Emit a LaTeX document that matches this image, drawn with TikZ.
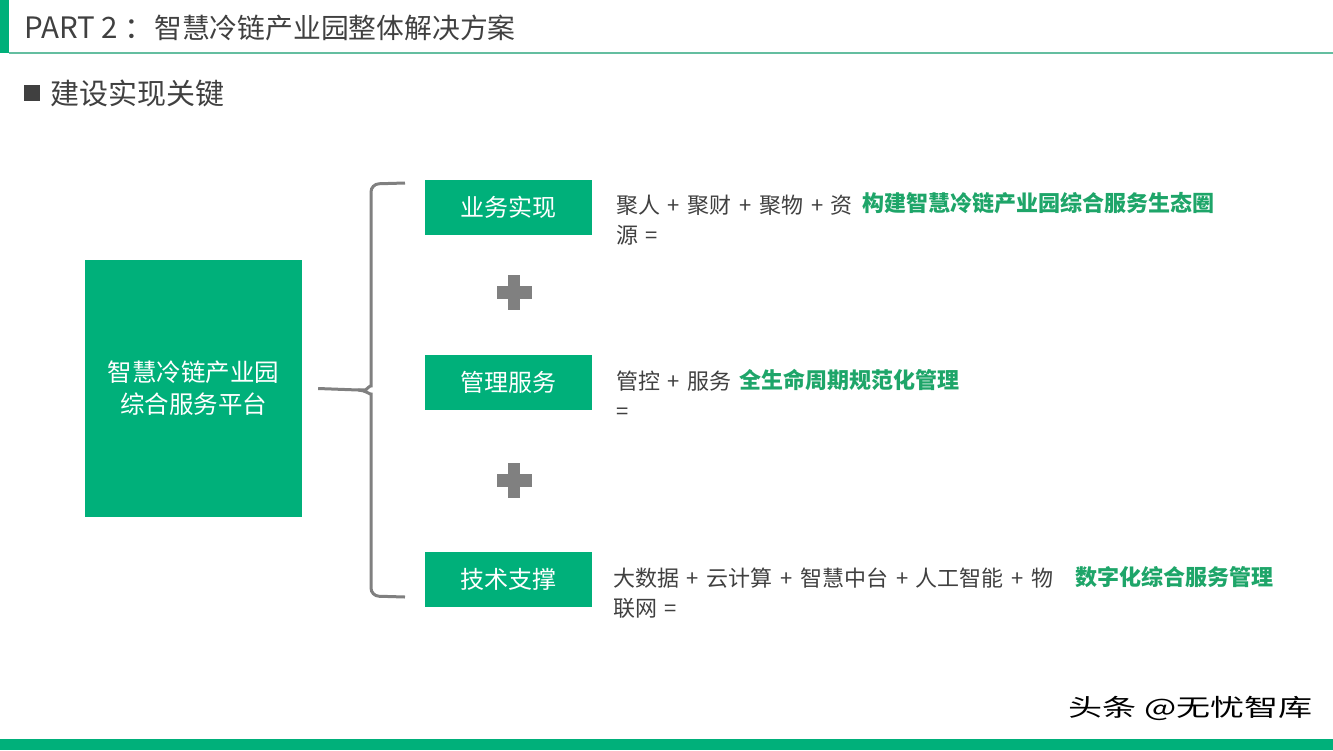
\documentclass[tikz,border=0pt]{standalone}
\usepackage{fontspec}
\setmainfont{Noto Sans CJK SC}
\newfontfamily\formulafont[WordSpace=1.56]{Noto Sans CJK SC}
\usepackage{graphicx}
\usepackage{tikz}
\usetikzlibrary{positioning}
\definecolor{brand}{RGB}{0,176,122}
\definecolor{rulegreen}{RGB}{100,190,160}
\definecolor{inkgray}{RGB}{64,64,64}
\definecolor{goalgreen}{RGB}{30,165,105}
\definecolor{linegray}{RGB}{128,128,128}
\tikzset{
  platform/.style={
    rectangle, fill=brand, text=white, minimum width=217pt,
    minimum height=257pt, align=center, font=\fontsize{24.5pt}{32pt}\selectfont
  },
  pillar/.style={
    rectangle, fill=brand, text=white, minimum width=167pt,
    minimum height=55pt, inner sep=0pt, font=\fontsize{24pt}{28pt}\selectfont
  },
  heading/.style={anchor=base west, inner sep=0pt, text=inkgray},
  formula/.style={
    anchor=base west, inner sep=0pt, align=left, text=inkgray,
    font=\formulafont\fontsize{22pt}{30pt}\selectfont
  },
  goal/.style={
    anchor=base west, inner sep=0pt, text=goalgreen,
    font=\fontsize{22pt}{26pt}\selectfont\bfseries
  },
  brace/.style={draw=linegray, line width=3pt, rounded corners=8pt},
  plusbar/.style={fill=linegray},
}

\begin{document}
\begin{tikzpicture}[x=1pt, y=-1pt]
  \useasboundingbox (0,0) rectangle (1333,750);

  % header
  \fill[brand] (0,0) rectangle (9,53);
  \draw[rulegreen, line width=1.5pt] (9,53) -- (1333,53);
  \node[heading, font=\fontsize{29.5pt}{34pt}\selectfont] (title) at (24,38) {PART 2 ：{\fontsize{27.8pt}{34pt}\selectfont 智慧冷链产业园整体解决方案}};
  \node[fill=inkgray, minimum size=16pt, inner sep=0pt, anchor=north west] (bullet) at (24,85) {};
  \node[heading, font=\fontsize{29pt}{34pt}\selectfont] (subtitle) at (50,104) {建设实现关键};

  % platform and its three pillars
  \node[platform] (hub) at (193.5,388.5) {智慧冷链产业园\\综合服务平台};
  \node[pillar] (biz) at (508.5,207.5) {业务实现};
  \node[pillar] (mgmt) at (508.5,382.5) {管理服务};
  \node[pillar] (tech) at (508.5,579.5) {技术支撑};

  % brace
  \coordinate (bracetip) at ([xshift=16pt]hub.east);
  \coordinate (bracetop) at (405,183);
  \coordinate (bracebot) at (405,597);
  \draw[brace] (bracetop) -- (371,184) -- (371,378) to[out=-90,in=0] (358,390) -- (bracetip);
  \draw[brace] (358,390) to[out=0,in=90] (371,402) -- (371,596) -- (bracebot);

  % plus signs
  \fill[plusbar] (496.5,286) rectangle (531.5,298.5);
  \fill[plusbar] (507.75,274.5) rectangle (520.25,309.5);
  \fill[plusbar] (496.5,474) rectangle (531.5,486.5);
  \fill[plusbar] (507.75,462.5) rectangle (520.25,497.5);

  % formulas (base = last line)
  \node[formula] (bizsum) at (616,243) {聚人 + 聚财 + 聚物 + 资\\源 =};
  \node[goal] (bizgoal) at (862,211) {构建智慧冷链产业园综合服务生态圈};
  \node[formula] (mgmtsum) at (616,419) {管控 + 服务\\=};
  \node[goal] (mgmtgoal) at (739,388) {全生命周期规范化管理};
  \node[formula] (techsum) at (613,616) {大数据 + 云计算 + 智慧中台 + 人工智能 + 物\\联网 =};
  \node[goal] (techgoal) at (1075,585) {数字化综合服务管理};

  % footer
  \node[anchor=base west, inner sep=0pt, text=black, font=\fontsize{24pt}{28pt}\selectfont] (credit) at (1068,716) {\scalebox{1.42}[1]{头条 @无忧智库}};
  \fill[brand] (0,739) rectangle (1333,750);
\end{tikzpicture}
\end{document}
